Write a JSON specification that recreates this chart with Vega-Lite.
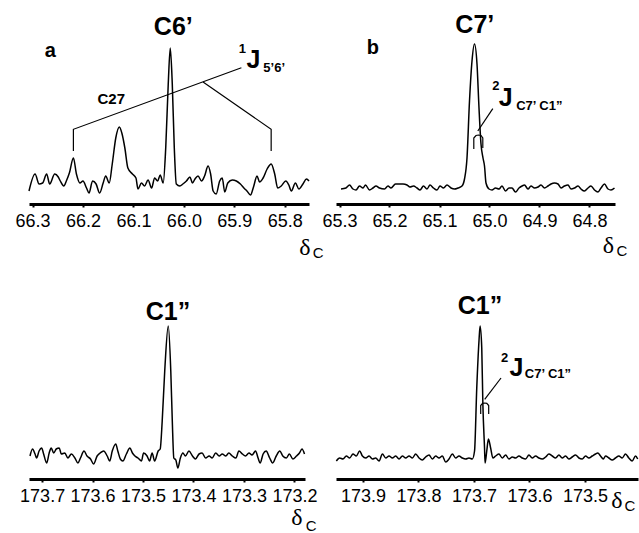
{
"$schema": "https://vega.github.io/schema/vega-lite/v6.json",
"background": "white",
"padding": {"left": 15, "top": 6, "right": 2, "bottom": 2},
"config": {
  "view": {"stroke": null},
  "axisX": {"domainWidth": 3, "domainColor": "black", "tickColor": "black", "tickSize": 3, "tickWidth": 2, "labelFont": "Liberation Sans", "labelFontSize": 18, "labelColor": "black", "labelPadding": 5, "grid": false, "labelOverlap": false, "labelFlush": false}
},
"datasets": {
  "spectra": [
    {"panel":"a","ppm":66.307,"amp":13},{"panel":"a","ppm":66.295,"amp":30},{"panel":"a","ppm":66.287,"amp":20},{"panel":"a","ppm":66.280,"amp":21},{"panel":"a","ppm":66.272,"amp":30},{"panel":"a","ppm":66.266,"amp":20},{"panel":"a","ppm":66.256,"amp":30},{"panel":"a","ppm":66.249,"amp":27},{"panel":"a","ppm":66.245,"amp":23},{"panel":"a","ppm":66.238,"amp":18},{"panel":"a","ppm":66.233,"amp":23},{"panel":"a","ppm":66.227,"amp":31},{"panel":"a","ppm":66.219,"amp":46},{"panel":"a","ppm":66.213,"amp":30},{"panel":"a","ppm":66.206,"amp":21},{"panel":"a","ppm":66.200,"amp":23},{"panel":"a","ppm":66.193,"amp":16},{"panel":"a","ppm":66.188,"amp":11},{"panel":"a","ppm":66.181,"amp":23},{"panel":"a","ppm":66.174,"amp":20},{"panel":"a","ppm":66.167,"amp":11},{"panel":"a","ppm":66.160,"amp":21},{"panel":"a","ppm":66.155,"amp":28},{"panel":"a","ppm":66.148,"amp":21},{"panel":"a","ppm":66.142,"amp":40},{"panel":"a","ppm":66.135,"amp":66},{"panel":"a","ppm":66.128,"amp":77},{"panel":"a","ppm":66.123,"amp":71},{"panel":"a","ppm":66.117,"amp":56},{"panel":"a","ppm":66.111,"amp":36},{"panel":"a","ppm":66.102,"amp":30},{"panel":"a","ppm":66.095,"amp":26},{"panel":"a","ppm":66.091,"amp":15},{"panel":"a","ppm":66.084,"amp":21},{"panel":"a","ppm":66.078,"amp":18},{"panel":"a","ppm":66.071,"amp":24},{"panel":"a","ppm":66.064,"amp":16},{"panel":"a","ppm":66.058,"amp":26},{"panel":"a","ppm":66.052,"amp":23},{"panel":"a","ppm":66.047,"amp":29},{"panel":"a","ppm":66.041,"amp":21},{"panel":"a","ppm":66.036,"amp":56},{"panel":"a","ppm":66.031,"amp":120},{"panel":"a","ppm":66.027,"amp":156},{"panel":"a","ppm":66.023,"amp":120},{"panel":"a","ppm":66.019,"amp":56},{"panel":"a","ppm":66.015,"amp":20},{"panel":"a","ppm":66.008,"amp":18},{"panel":"a","ppm":66.002,"amp":20},{"panel":"a","ppm":65.995,"amp":23},{"panel":"a","ppm":65.988,"amp":27},{"panel":"a","ppm":65.983,"amp":21},{"panel":"a","ppm":65.978,"amp":25},{"panel":"a","ppm":65.972,"amp":28},{"panel":"a","ppm":65.965,"amp":23},{"panel":"a","ppm":65.959,"amp":28},{"panel":"a","ppm":65.952,"amp":38},{"panel":"a","ppm":65.947,"amp":30},{"panel":"a","ppm":65.942,"amp":13},{"panel":"a","ppm":65.936,"amp":10},{"panel":"a","ppm":65.929,"amp":23},{"panel":"a","ppm":65.924,"amp":26},{"panel":"a","ppm":65.919,"amp":12},{"panel":"a","ppm":65.913,"amp":21},{"panel":"a","ppm":65.904,"amp":24},{"panel":"a","ppm":65.896,"amp":23},{"panel":"a","ppm":65.888,"amp":20},{"panel":"a","ppm":65.881,"amp":16},{"panel":"a","ppm":65.875,"amp":13},{"panel":"a","ppm":65.868,"amp":9},{"panel":"a","ppm":65.862,"amp":17},{"panel":"a","ppm":65.855,"amp":28},{"panel":"a","ppm":65.850,"amp":22},{"panel":"a","ppm":65.843,"amp":26},{"panel":"a","ppm":65.835,"amp":35},{"panel":"a","ppm":65.827,"amp":40},{"panel":"a","ppm":65.820,"amp":30},{"panel":"a","ppm":65.814,"amp":16},{"panel":"a","ppm":65.807,"amp":18},{"panel":"a","ppm":65.798,"amp":23},{"panel":"a","ppm":65.792,"amp":19},{"panel":"a","ppm":65.787,"amp":13},{"panel":"a","ppm":65.779,"amp":21},{"panel":"a","ppm":65.772,"amp":15},{"panel":"a","ppm":65.764,"amp":20},{"panel":"a","ppm":65.757,"amp":25},{"panel":"a","ppm":65.752,"amp":23},

    {"panel":"b","ppm":65.297,"amp":15},{"panel":"b","ppm":65.287,"amp":16},{"panel":"b","ppm":65.280,"amp":19},{"panel":"b","ppm":65.273,"amp":15},{"panel":"b","ppm":65.267,"amp":14},{"panel":"b","ppm":65.260,"amp":18},{"panel":"b","ppm":65.253,"amp":16},{"panel":"b","ppm":65.248,"amp":19},{"panel":"b","ppm":65.240,"amp":14},{"panel":"b","ppm":65.233,"amp":16},{"panel":"b","ppm":65.227,"amp":18},{"panel":"b","ppm":65.220,"amp":16},{"panel":"b","ppm":65.210,"amp":15},{"panel":"b","ppm":65.203,"amp":18},{"panel":"b","ppm":65.197,"amp":16},{"panel":"b","ppm":65.188,"amp":20},{"panel":"b","ppm":65.181,"amp":20},{"panel":"b","ppm":65.173,"amp":20},{"panel":"b","ppm":65.165,"amp":19},{"panel":"b","ppm":65.159,"amp":17},{"panel":"b","ppm":65.152,"amp":18},{"panel":"b","ppm":65.145,"amp":16},{"panel":"b","ppm":65.139,"amp":14},{"panel":"b","ppm":65.132,"amp":18},{"panel":"b","ppm":65.125,"amp":15},{"panel":"b","ppm":65.119,"amp":19},{"panel":"b","ppm":65.112,"amp":16},{"panel":"b","ppm":65.105,"amp":14},{"panel":"b","ppm":65.099,"amp":18},{"panel":"b","ppm":65.092,"amp":16},{"panel":"b","ppm":65.085,"amp":19},{"panel":"b","ppm":65.077,"amp":16},{"panel":"b","ppm":65.070,"amp":15},{"panel":"b","ppm":65.063,"amp":16},{"panel":"b","ppm":65.055,"amp":18},{"panel":"b","ppm":65.050,"amp":25},{"panel":"b","ppm":65.045,"amp":46},{"panel":"b","ppm":65.040,"amp":103},{"panel":"b","ppm":65.035,"amp":143},{"panel":"b","ppm":65.030,"amp":160},{"panel":"b","ppm":65.025,"amp":140},{"panel":"b","ppm":65.021,"amp":96},{"panel":"b","ppm":65.017,"amp":60},{"panel":"b","ppm":65.013,"amp":46},{"panel":"b","ppm":65.010,"amp":38},{"panel":"b","ppm":65.007,"amp":21},{"panel":"b","ppm":65.001,"amp":15},{"panel":"b","ppm":64.995,"amp":14},{"panel":"b","ppm":64.988,"amp":16},{"panel":"b","ppm":64.981,"amp":15},{"panel":"b","ppm":64.975,"amp":18},{"panel":"b","ppm":64.968,"amp":13},{"panel":"b","ppm":64.961,"amp":16},{"panel":"b","ppm":64.955,"amp":16},{"panel":"b","ppm":64.948,"amp":12},{"panel":"b","ppm":64.941,"amp":16},{"panel":"b","ppm":64.935,"amp":18},{"panel":"b","ppm":64.930,"amp":19},{"panel":"b","ppm":64.923,"amp":15},{"panel":"b","ppm":64.917,"amp":18},{"panel":"b","ppm":64.910,"amp":16},{"panel":"b","ppm":64.903,"amp":17},{"panel":"b","ppm":64.897,"amp":19},{"panel":"b","ppm":64.890,"amp":16},{"panel":"b","ppm":64.883,"amp":18},{"panel":"b","ppm":64.877,"amp":20},{"panel":"b","ppm":64.870,"amp":21},{"panel":"b","ppm":64.863,"amp":20},{"panel":"b","ppm":64.857,"amp":16},{"panel":"b","ppm":64.850,"amp":18},{"panel":"b","ppm":64.843,"amp":19},{"panel":"b","ppm":64.837,"amp":15},{"panel":"b","ppm":64.830,"amp":16},{"panel":"b","ppm":64.823,"amp":18},{"panel":"b","ppm":64.817,"amp":15},{"panel":"b","ppm":64.810,"amp":13},{"panel":"b","ppm":64.803,"amp":16},{"panel":"b","ppm":64.797,"amp":18},{"panel":"b","ppm":64.790,"amp":14},{"panel":"b","ppm":64.783,"amp":12},{"panel":"b","ppm":64.777,"amp":16},{"panel":"b","ppm":64.770,"amp":20},{"panel":"b","ppm":64.763,"amp":15},{"panel":"b","ppm":64.757,"amp":14},{"panel":"b","ppm":64.750,"amp":16},

    {"panel":"c","ppm":173.724,"amp":23},{"panel":"c","ppm":173.719,"amp":30},{"panel":"c","ppm":173.714,"amp":25},{"panel":"c","ppm":173.711,"amp":21},{"panel":"c","ppm":173.706,"amp":28},{"panel":"c","ppm":173.701,"amp":31},{"panel":"c","ppm":173.697,"amp":25},{"panel":"c","ppm":173.691,"amp":16},{"panel":"c","ppm":173.686,"amp":26},{"panel":"c","ppm":173.682,"amp":31},{"panel":"c","ppm":173.677,"amp":26},{"panel":"c","ppm":173.672,"amp":30},{"panel":"c","ppm":173.666,"amp":31},{"panel":"c","ppm":173.662,"amp":25},{"panel":"c","ppm":173.655,"amp":26},{"panel":"c","ppm":173.649,"amp":21},{"panel":"c","ppm":173.642,"amp":25},{"panel":"c","ppm":173.635,"amp":21},{"panel":"c","ppm":173.629,"amp":16},{"panel":"c","ppm":173.624,"amp":21},{"panel":"c","ppm":173.617,"amp":28},{"panel":"c","ppm":173.611,"amp":23},{"panel":"c","ppm":173.604,"amp":20},{"panel":"c","ppm":173.598,"amp":15},{"panel":"c","ppm":173.591,"amp":23},{"panel":"c","ppm":173.585,"amp":26},{"panel":"c","ppm":173.578,"amp":28},{"panel":"c","ppm":173.571,"amp":23},{"panel":"c","ppm":173.566,"amp":18},{"panel":"c","ppm":173.561,"amp":28},{"panel":"c","ppm":173.554,"amp":35},{"panel":"c","ppm":173.550,"amp":28},{"panel":"c","ppm":173.545,"amp":20},{"panel":"c","ppm":173.540,"amp":18},{"panel":"c","ppm":173.533,"amp":25},{"panel":"c","ppm":173.526,"amp":31},{"panel":"c","ppm":173.521,"amp":26},{"panel":"c","ppm":173.516,"amp":23},{"panel":"c","ppm":173.510,"amp":21},{"panel":"c","ppm":173.503,"amp":18},{"panel":"c","ppm":173.499,"amp":26},{"panel":"c","ppm":173.492,"amp":23},{"panel":"c","ppm":173.487,"amp":18},{"panel":"c","ppm":173.482,"amp":26},{"panel":"c","ppm":173.477,"amp":18},{"panel":"c","ppm":173.470,"amp":28},{"panel":"c","ppm":173.466,"amp":30},{"panel":"c","ppm":173.462,"amp":58},{"panel":"c","ppm":173.457,"amp":108},{"panel":"c","ppm":173.450,"amp":153},{"panel":"c","ppm":173.445,"amp":108},{"panel":"c","ppm":173.442,"amp":58},{"panel":"c","ppm":173.439,"amp":21},{"panel":"c","ppm":173.435,"amp":19},{"panel":"c","ppm":173.431,"amp":11},{"panel":"c","ppm":173.426,"amp":21},{"panel":"c","ppm":173.421,"amp":26},{"panel":"c","ppm":173.416,"amp":23},{"panel":"c","ppm":173.409,"amp":28},{"panel":"c","ppm":173.402,"amp":23},{"panel":"c","ppm":173.396,"amp":20},{"panel":"c","ppm":173.389,"amp":25},{"panel":"c","ppm":173.383,"amp":26},{"panel":"c","ppm":173.376,"amp":21},{"panel":"c","ppm":173.369,"amp":23},{"panel":"c","ppm":173.363,"amp":21},{"panel":"c","ppm":173.356,"amp":26},{"panel":"c","ppm":173.349,"amp":23},{"panel":"c","ppm":173.343,"amp":25},{"panel":"c","ppm":173.336,"amp":23},{"panel":"c","ppm":173.330,"amp":26},{"panel":"c","ppm":173.323,"amp":23},{"panel":"c","ppm":173.316,"amp":21},{"panel":"c","ppm":173.310,"amp":28},{"panel":"c","ppm":173.303,"amp":25},{"panel":"c","ppm":173.297,"amp":23},{"panel":"c","ppm":173.290,"amp":26},{"panel":"c","ppm":173.284,"amp":24},{"panel":"c","ppm":173.277,"amp":28},{"panel":"c","ppm":173.272,"amp":21},{"panel":"c","ppm":173.268,"amp":16},{"panel":"c","ppm":173.262,"amp":25},{"panel":"c","ppm":173.256,"amp":28},{"panel":"c","ppm":173.249,"amp":21},{"panel":"c","ppm":173.243,"amp":16},{"panel":"c","ppm":173.236,"amp":23},{"panel":"c","ppm":173.229,"amp":28},{"panel":"c","ppm":173.223,"amp":23},{"panel":"c","ppm":173.216,"amp":21},{"panel":"c","ppm":173.210,"amp":25},{"panel":"c","ppm":173.203,"amp":20},{"panel":"c","ppm":173.196,"amp":23},{"panel":"c","ppm":173.190,"amp":26},{"panel":"c","ppm":173.185,"amp":30},{"panel":"c","ppm":173.180,"amp":25},

    {"panel":"d","ppm":173.948,"amp":18},{"panel":"d","ppm":173.942,"amp":21},{"panel":"d","ppm":173.936,"amp":20},{"panel":"d","ppm":173.930,"amp":23},{"panel":"d","ppm":173.924,"amp":21},{"panel":"d","ppm":173.918,"amp":25},{"panel":"d","ppm":173.912,"amp":23},{"panel":"d","ppm":173.906,"amp":28},{"panel":"d","ppm":173.901,"amp":23},{"panel":"d","ppm":173.895,"amp":21},{"panel":"d","ppm":173.889,"amp":23},{"panel":"d","ppm":173.883,"amp":20},{"panel":"d","ppm":173.877,"amp":21},{"panel":"d","ppm":173.871,"amp":18},{"panel":"d","ppm":173.865,"amp":25},{"panel":"d","ppm":173.859,"amp":21},{"panel":"d","ppm":173.853,"amp":23},{"panel":"d","ppm":173.847,"amp":21},{"panel":"d","ppm":173.841,"amp":23},{"panel":"d","ppm":173.835,"amp":20},{"panel":"d","ppm":173.829,"amp":23},{"panel":"d","ppm":173.823,"amp":21},{"panel":"d","ppm":173.817,"amp":23},{"panel":"d","ppm":173.811,"amp":21},{"panel":"d","ppm":173.805,"amp":25},{"panel":"d","ppm":173.799,"amp":21},{"panel":"d","ppm":173.793,"amp":19},{"panel":"d","ppm":173.787,"amp":22},{"panel":"d","ppm":173.781,"amp":24},{"panel":"d","ppm":173.775,"amp":20},{"panel":"d","ppm":173.769,"amp":23},{"panel":"d","ppm":173.763,"amp":21},{"panel":"d","ppm":173.757,"amp":23},{"panel":"d","ppm":173.751,"amp":17},{"panel":"d","ppm":173.745,"amp":20},{"panel":"d","ppm":173.739,"amp":25},{"panel":"d","ppm":173.733,"amp":21},{"panel":"d","ppm":173.727,"amp":23},{"panel":"d","ppm":173.721,"amp":21},{"panel":"d","ppm":173.715,"amp":20},{"panel":"d","ppm":173.709,"amp":21},{"panel":"d","ppm":173.703,"amp":20},{"panel":"d","ppm":173.699,"amp":28},{"panel":"d","ppm":173.695,"amp":91},{"panel":"d","ppm":173.691,"amp":138},{"panel":"d","ppm":173.689,"amp":153},{"panel":"d","ppm":173.686,"amp":131},{"panel":"d","ppm":173.684,"amp":75},{"panel":"d","ppm":173.681,"amp":31},{"panel":"d","ppm":173.680,"amp":16},{"panel":"d","ppm":173.677,"amp":28},{"panel":"d","ppm":173.674,"amp":40},{"panel":"d","ppm":173.670,"amp":31},{"panel":"d","ppm":173.666,"amp":21},{"panel":"d","ppm":173.661,"amp":23},{"panel":"d","ppm":173.655,"amp":25},{"panel":"d","ppm":173.649,"amp":21},{"panel":"d","ppm":173.643,"amp":24},{"panel":"d","ppm":173.637,"amp":20},{"panel":"d","ppm":173.631,"amp":22},{"panel":"d","ppm":173.625,"amp":21},{"panel":"d","ppm":173.619,"amp":23},{"panel":"d","ppm":173.613,"amp":21},{"panel":"d","ppm":173.607,"amp":20},{"panel":"d","ppm":173.601,"amp":24},{"panel":"d","ppm":173.595,"amp":21},{"panel":"d","ppm":173.589,"amp":23},{"panel":"d","ppm":173.583,"amp":21},{"panel":"d","ppm":173.577,"amp":20},{"panel":"d","ppm":173.571,"amp":22},{"panel":"d","ppm":173.565,"amp":25},{"panel":"d","ppm":173.559,"amp":23},{"panel":"d","ppm":173.553,"amp":21},{"panel":"d","ppm":173.547,"amp":24},{"panel":"d","ppm":173.541,"amp":21},{"panel":"d","ppm":173.535,"amp":23},{"panel":"d","ppm":173.529,"amp":20},{"panel":"d","ppm":173.523,"amp":22},{"panel":"d","ppm":173.517,"amp":24},{"panel":"d","ppm":173.511,"amp":21},{"panel":"d","ppm":173.505,"amp":20},{"panel":"d","ppm":173.499,"amp":23},{"panel":"d","ppm":173.493,"amp":21},{"panel":"d","ppm":173.487,"amp":23},{"panel":"d","ppm":173.481,"amp":25},{"panel":"d","ppm":173.477,"amp":26},{"panel":"d","ppm":173.472,"amp":23},{"panel":"d","ppm":173.467,"amp":20},{"panel":"d","ppm":173.463,"amp":23},{"panel":"d","ppm":173.457,"amp":21},{"panel":"d","ppm":173.451,"amp":19},{"panel":"d","ppm":173.445,"amp":21},{"panel":"d","ppm":173.439,"amp":23},{"panel":"d","ppm":173.433,"amp":21},{"panel":"d","ppm":173.427,"amp":25},{"panel":"d","ppm":173.421,"amp":21},{"panel":"d","ppm":173.415,"amp":18},{"panel":"d","ppm":173.409,"amp":23},{"panel":"d","ppm":173.405,"amp":20}
  ],
  "leaders": [
    {"panel":"a","seg":"a1","o":1,"ppm":66.219,"amp":53},{"panel":"a","seg":"a1","o":2,"ppm":66.219,"amp":74.7},{"panel":"a","seg":"a1","o":3,"ppm":65.886,"amp":136.3},
    {"panel":"a","seg":"a2","o":1,"ppm":65.962,"amp":122},{"panel":"a","seg":"a2","o":2,"ppm":65.827,"amp":74.7},{"panel":"a","seg":"a2","o":3,"ppm":65.827,"amp":53},
    {"panel":"b","seg":"b1","o":1,"ppm":64.9934,"amp":95.3},{"panel":"b","seg":"b1","o":2,"ppm":65.0234,"amp":73},
    {"panel":"b","seg":"b2","o":1,"ppm":65.0314,"amp":55},{"panel":"b","seg":"b2","o":2,"ppm":65.0314,"amp":66},{"panel":"b","seg":"b2","o":3,"ppm":65.027,"amp":68.5},{"panel":"b","seg":"b2","o":4,"ppm":65.022,"amp":69},{"panel":"b","seg":"b2","o":5,"ppm":65.017,"amp":68.5},{"panel":"b","seg":"b2","o":6,"ppm":65.0134,"amp":66},{"panel":"b","seg":"b2","o":7,"ppm":65.0134,"amp":56},
    {"panel":"d","seg":"d1","o":1,"ppm":173.6513,"amp":101},{"panel":"d","seg":"d1","o":2,"ppm":173.6807,"amp":79.7},
    {"panel":"d","seg":"d2","o":1,"ppm":173.6879,"amp":65},{"panel":"d","seg":"d2","o":2,"ppm":173.6879,"amp":73.5},{"panel":"d","seg":"d2","o":3,"ppm":173.6845,"amp":75.7},{"panel":"d","seg":"d2","o":4,"ppm":173.6807,"amp":76},{"panel":"d","seg":"d2","o":5,"ppm":173.6769,"amp":75.7},{"panel":"d","seg":"d2","o":6,"ppm":173.6735,"amp":73.5},{"panel":"d","seg":"d2","o":7,"ppm":173.6735,"amp":65}
  ],
  "labels": [
    {"panel":"a","kind":"letter","text":"a","ppm":66.265,"amp":153},
    {"panel":"a","kind":"big","text":"C6’","ppm":66.021,"amp":177},
    {"panel":"a","kind":"big","text":"J","ppm":65.862,"amp":144},
    {"panel":"a","kind":"script","text":"1","ppm":65.884,"amp":155},
    {"panel":"a","kind":"script","text":"5’6’","ppm":65.821,"amp":136},
    {"panel":"a","kind":"small","text":"C27","ppm":66.144,"amp":105},
    {"panel":"a","kind":"delta","text":"δ","ppm":65.760,"amp":-44},
    {"panel":"a","kind":"dsub","text":"C","ppm":65.734,"amp":-49},
    {"panel":"b","kind":"letter","text":"b","ppm":65.2334,"amp":156},
    {"panel":"b","kind":"big","text":"C7’","ppm":65.0294,"amp":179},
    {"panel":"b","kind":"big","text":"J","ppm":64.9674,"amp":106},
    {"panel":"b","kind":"script","text":"2","ppm":64.9874,"amp":118},
    {"panel":"b","kind":"script","text":"C7’ C1”","ppm":64.9004,"amp":98},
    {"panel":"b","kind":"delta","text":"δ","ppm":64.762,"amp":-42},
    {"panel":"b","kind":"dsub","text":"C","ppm":64.735,"amp":-47},
    {"panel":"c","kind":"big","text":"C1”","ppm":173.4505,"amp":167},
    {"panel":"c","kind":"delta","text":"δ","ppm":173.195,"amp":-39},
    {"panel":"c","kind":"dsub","text":"C","ppm":173.167,"amp":-47},
    {"panel":"d","kind":"big","text":"C1”","ppm":173.6891,"amp":173},
    {"panel":"d","kind":"big","text":"J","ppm":173.6237,"amp":111},
    {"panel":"d","kind":"script","text":"2","ppm":173.6447,"amp":121},
    {"panel":"d","kind":"script","text":"C7’ C1”","ppm":173.5668,"amp":105},
    {"panel":"d","kind":"delta","text":"δ","ppm":173.4425,"amp":-22},
    {"panel":"d","kind":"dsub","text":"C","ppm":173.419,"amp":-27}
  ]
},
"columns": 2,
"spacing": {"row": 77, "column": 27},
"align": "each",
"bounds": "flush",
"concat": [
  {
    "width": 280, "height": 198,
    "encoding": {
      "x": {"field": "ppm", "type": "quantitative", "title": null, "scale": {"domain": [66.307, 65.752], "nice": false, "zero": false}, "axis": {"values": [66.3, 66.2, 66.1, 66.0, 65.9, 65.8], "format": ".1f"}},
      "y": {"field": "amp", "type": "quantitative", "scale": {"domain": [0, 198], "nice": false, "zero": false}, "axis": null}
    },
    "layer": [
      {"data": {"name": "spectra"}, "transform": [{"filter": "datum.panel === 'a'"}], "mark": {"type": "line", "color": "black", "strokeWidth": 1.5, "interpolate": "monotone"}, "encoding": {"order": {"field": "ppm", "type": "quantitative"}}},
      {"data": {"name": "leaders"}, "transform": [{"filter": "datum.panel === 'a'"}], "mark": {"type": "line", "color": "black", "strokeWidth": 1.2}, "encoding": {"detail": {"field": "seg"}, "order": {"field": "o", "type": "quantitative"}}},
      {"data": {"name": "labels"}, "transform": [{"filter": "datum.panel === 'a' && datum.kind === 'big'"}], "mark": {"type": "text", "font": "Liberation Sans", "fontWeight": "bold", "fontSize": 25, "color": "black", "align": "center", "baseline": "middle"}, "encoding": {"text": {"field": "text"}}},
      {"data": {"name": "labels"}, "transform": [{"filter": "datum.panel === 'a' && datum.kind === 'letter'"}], "mark": {"type": "text", "font": "Liberation Sans", "fontWeight": "bold", "fontSize": 20, "color": "black", "align": "center", "baseline": "middle"}, "encoding": {"text": {"field": "text"}}},
      {"data": {"name": "labels"}, "transform": [{"filter": "datum.panel === 'a' && datum.kind === 'small'"}], "mark": {"type": "text", "font": "Liberation Sans", "fontWeight": "bold", "fontSize": 15, "color": "black", "align": "center", "baseline": "middle"}, "encoding": {"text": {"field": "text"}}},
      {"data": {"name": "labels"}, "transform": [{"filter": "datum.panel === 'a' && datum.kind === 'script'"}], "mark": {"type": "text", "font": "Liberation Sans", "fontWeight": "bold", "fontSize": 13, "color": "black", "align": "center", "baseline": "middle"}, "encoding": {"text": {"field": "text"}}},
      {"data": {"name": "labels"}, "transform": [{"filter": "datum.panel === 'a' && datum.kind === 'delta'"}], "mark": {"type": "text", "font": "Liberation Serif", "fontSize": 24, "color": "black", "align": "center", "baseline": "middle"}, "encoding": {"text": {"field": "text"}}},
      {"data": {"name": "labels"}, "transform": [{"filter": "datum.panel === 'a' && datum.kind === 'dsub'"}], "mark": {"type": "text", "font": "Liberation Sans", "fontSize": 15, "color": "black", "align": "center", "baseline": "middle"}, "encoding": {"text": {"field": "text"}}}
    ]
  },
  {
    "width": 279, "height": 198,
    "encoding": {
      "x": {"field": "ppm", "type": "quantitative", "title": null, "scale": {"domain": [65.307, 64.749], "nice": false, "zero": false}, "axis": {"values": [65.3, 65.2, 65.1, 65.0, 64.9, 64.8], "format": ".1f"}},
      "y": {"field": "amp", "type": "quantitative", "scale": {"domain": [0, 198], "nice": false, "zero": false}, "axis": null}
    },
    "layer": [
      {"data": {"name": "spectra"}, "transform": [{"filter": "datum.panel === 'b'"}], "mark": {"type": "line", "color": "black", "strokeWidth": 1.5, "interpolate": "monotone"}, "encoding": {"order": {"field": "ppm", "type": "quantitative"}}},
      {"data": {"name": "leaders"}, "transform": [{"filter": "datum.panel === 'b'"}], "mark": {"type": "line", "color": "black", "strokeWidth": 1.2}, "encoding": {"detail": {"field": "seg"}, "order": {"field": "o", "type": "quantitative"}}},
      {"data": {"name": "labels"}, "transform": [{"filter": "datum.panel === 'b' && datum.kind === 'big'"}], "mark": {"type": "text", "font": "Liberation Sans", "fontWeight": "bold", "fontSize": 25, "color": "black", "align": "center", "baseline": "middle"}, "encoding": {"text": {"field": "text"}}},
      {"data": {"name": "labels"}, "transform": [{"filter": "datum.panel === 'b' && datum.kind === 'letter'"}], "mark": {"type": "text", "font": "Liberation Sans", "fontWeight": "bold", "fontSize": 20, "color": "black", "align": "center", "baseline": "middle"}, "encoding": {"text": {"field": "text"}}},
      {"data": {"name": "labels"}, "transform": [{"filter": "datum.panel === 'b' && datum.kind === 'script'"}], "mark": {"type": "text", "font": "Liberation Sans", "fontWeight": "bold", "fontSize": 13, "color": "black", "align": "center", "baseline": "middle"}, "encoding": {"text": {"field": "text"}}},
      {"data": {"name": "labels"}, "transform": [{"filter": "datum.panel === 'b' && datum.kind === 'delta'"}], "mark": {"type": "text", "font": "Liberation Serif", "fontSize": 24, "color": "black", "align": "center", "baseline": "middle"}, "encoding": {"text": {"field": "text"}}},
      {"data": {"name": "labels"}, "transform": [{"filter": "datum.panel === 'b' && datum.kind === 'dsub'"}], "mark": {"type": "text", "font": "Liberation Sans", "fontSize": 15, "color": "black", "align": "center", "baseline": "middle"}, "encoding": {"text": {"field": "text"}}}
    ]
  },
  {
    "width": 276, "height": 198,
    "encoding": {
      "x": {"field": "ppm", "type": "quantitative", "title": null, "scale": {"domain": [173.726, 173.179], "nice": false, "zero": false}, "axis": {"values": [173.7, 173.6, 173.5, 173.4, 173.3, 173.2], "format": ".1f"}},
      "y": {"field": "amp", "type": "quantitative", "scale": {"domain": [0, 198], "nice": false, "zero": false}, "axis": null}
    },
    "layer": [
      {"data": {"name": "spectra"}, "transform": [{"filter": "datum.panel === 'c'"}], "mark": {"type": "line", "color": "black", "strokeWidth": 1.5, "interpolate": "monotone"}, "encoding": {"order": {"field": "ppm", "type": "quantitative"}}},
      {"data": {"name": "labels"}, "transform": [{"filter": "datum.panel === 'c' && datum.kind === 'big'"}], "mark": {"type": "text", "font": "Liberation Sans", "fontWeight": "bold", "fontSize": 25, "color": "black", "align": "center", "baseline": "middle"}, "encoding": {"text": {"field": "text"}}},
      {"data": {"name": "labels"}, "transform": [{"filter": "datum.panel === 'c' && datum.kind === 'delta'"}], "mark": {"type": "text", "font": "Liberation Serif", "fontSize": 24, "color": "black", "align": "center", "baseline": "middle"}, "encoding": {"text": {"field": "text"}}},
      {"data": {"name": "labels"}, "transform": [{"filter": "datum.panel === 'c' && datum.kind === 'dsub'"}], "mark": {"type": "text", "font": "Liberation Sans", "fontSize": 15, "color": "black", "align": "center", "baseline": "middle"}, "encoding": {"text": {"field": "text"}}}
    ]
  },
  {
    "width": 302, "height": 198,
    "encoding": {
      "x": {"field": "ppm", "type": "quantitative", "title": null, "scale": {"domain": [173.9486, 173.4045], "nice": false, "zero": false}, "axis": {"values": [173.9, 173.8, 173.7, 173.6, 173.5], "format": ".1f"}},
      "y": {"field": "amp", "type": "quantitative", "scale": {"domain": [0, 198], "nice": false, "zero": false}, "axis": null}
    },
    "layer": [
      {"data": {"name": "spectra"}, "transform": [{"filter": "datum.panel === 'd'"}], "mark": {"type": "line", "color": "black", "strokeWidth": 1.5, "interpolate": "monotone"}, "encoding": {"order": {"field": "ppm", "type": "quantitative"}}},
      {"data": {"name": "leaders"}, "transform": [{"filter": "datum.panel === 'd'"}], "mark": {"type": "line", "color": "black", "strokeWidth": 1.2}, "encoding": {"detail": {"field": "seg"}, "order": {"field": "o", "type": "quantitative"}}},
      {"data": {"name": "labels"}, "transform": [{"filter": "datum.panel === 'd' && datum.kind === 'big'"}], "mark": {"type": "text", "font": "Liberation Sans", "fontWeight": "bold", "fontSize": 25, "color": "black", "align": "center", "baseline": "middle"}, "encoding": {"text": {"field": "text"}}},
      {"data": {"name": "labels"}, "transform": [{"filter": "datum.panel === 'd' && datum.kind === 'script'"}], "mark": {"type": "text", "font": "Liberation Sans", "fontWeight": "bold", "fontSize": 13, "color": "black", "align": "center", "baseline": "middle"}, "encoding": {"text": {"field": "text"}}},
      {"data": {"name": "labels"}, "transform": [{"filter": "datum.panel === 'd' && datum.kind === 'delta'"}], "mark": {"type": "text", "font": "Liberation Serif", "fontSize": 24, "color": "black", "align": "center", "baseline": "middle"}, "encoding": {"text": {"field": "text"}}},
      {"data": {"name": "labels"}, "transform": [{"filter": "datum.panel === 'd' && datum.kind === 'dsub'"}], "mark": {"type": "text", "font": "Liberation Sans", "fontSize": 15, "color": "black", "align": "center", "baseline": "middle"}, "encoding": {"text": {"field": "text"}}}
    ]
  }
]
}
